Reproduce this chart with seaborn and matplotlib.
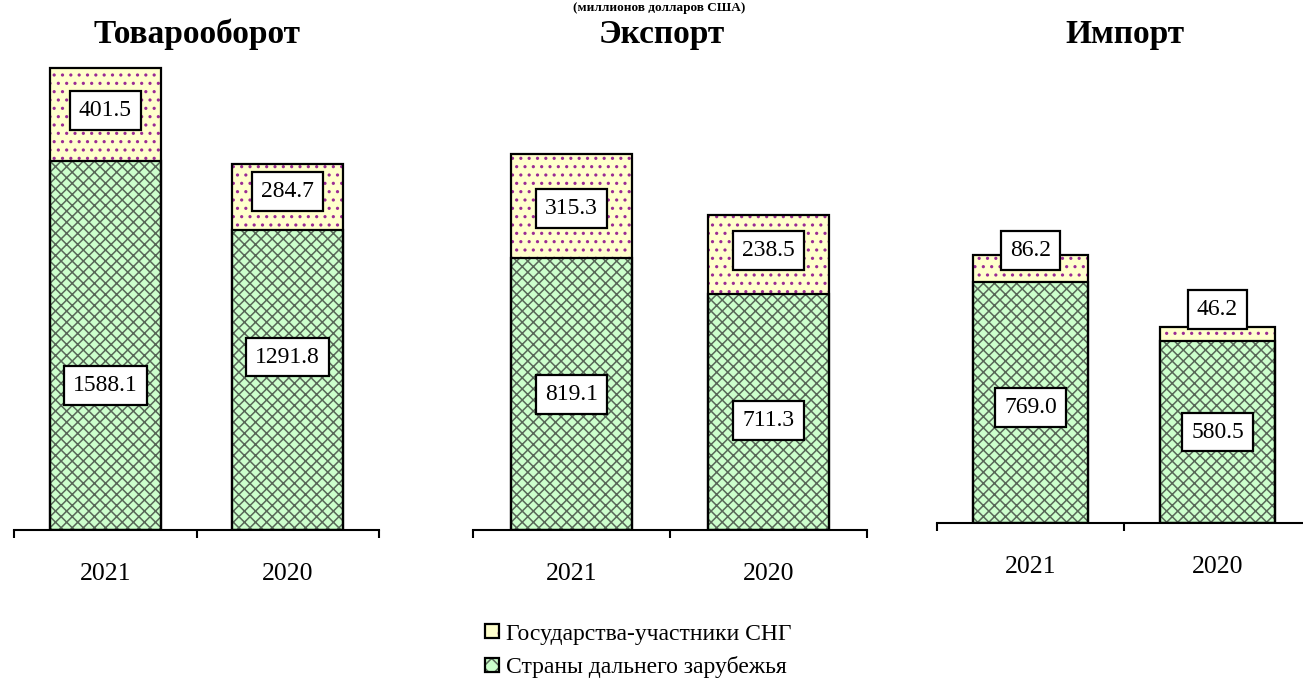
import numpy as np
import pandas as pd
import matplotlib
matplotlib.use("Agg")
import matplotlib.pyplot as plt
import seaborn as sns
from matplotlib.patches import Rectangle, Patch
from matplotlib.legend_handler import HandlerBase

# ---------------- data ----------------
years = ["2021", "2020"]
panel_titles = ["Товарооборот", "Экспорт", "Импорт"]
trade_far = [1588.1, 1291.8]
trade_cis = [401.5, 284.7]
export_far = [819.1, 711.3]
export_cis = [315.3, 238.5]
import_far = [769.0, 580.5]
import_cis = [86.2, 46.2]
series_labels = ["Государства-участники СНГ", "Страны дальнего зарубежья"]
subtitle = "(миллионов долларов США)"

far_values = [trade_far, export_far, import_far]
cis_values = [trade_cis, export_cis, import_cis]

# ---------------- style ----------------
sns.set_theme(style="white")
plt.rcParams["font.family"] = ["Liberation Serif", "DejaVu Serif"]
plt.rcParams["text.color"] = "black"
plt.rcParams["xtick.color"] = "black"
plt.rcParams["xtick.labelcolor"] = "black"
plt.rcParams["hatch.linewidth"] = 1.1

W, H = 1303, 693
DPI = 100
fig = plt.figure(figsize=(W / DPI, H / DPI), dpi=DPI)

GREEN = "#ccffcc"
GREEN_HATCH = "#586858"
GREEN_PAT = "xxx"
YELLOW = "#ffffcc"
YELLOW_HATCH = "#9a2a94"
YELLOW_PAT = ".."

# axes layout in pixels: left, right, bottom, top ; y-limit per panel
axes_px = [(14, 379, 530, 40), (473, 867, 530, 40), (937, 1311, 523, 40)]
ymax = [2110, 1478, 1541]
title_x = [197, 662, 1125]
# label nudges in pixels (positive = up)
far_nudge = [[-40, 23], [0, -8], [-5, 0]]
cis_nudge = [[4, 5], [-2, 4], [18, 24]]

for i in range(3):
    l, r, b, t = axes_px[i]
    ax = fig.add_axes([l / W, 1 - b / H, (r - l) / W, (b - t) / H])
    df = pd.DataFrame({
        "year": years,
        "far": far_values[i],
        "cis": cis_values[i],
    })
    df["total"] = df["far"] + df["cis"]

    sns.barplot(data=df, x="year", y="total", order=years, color=YELLOW,
                width=0.61, ax=ax, hatch=YELLOW_PAT, edgecolor=YELLOW_HATCH,
                linewidth=0, saturation=1)
    sns.barplot(data=df, x="year", y="far", order=years, color=GREEN,
                width=0.61, ax=ax, hatch=GREEN_PAT, edgecolor=GREEN_HATCH,
                linewidth=0, saturation=1)
    for p in list(ax.patches):
        ax.add_patch(Rectangle(p.get_xy(), p.get_width(), p.get_height(),
                               fill=False, edgecolor="black", linewidth=1.6,
                               zorder=3))

    ax.set_xlim(-0.5, 1.5)
    ax.set_ylim(0, ymax[i])
    ax.set_xlabel("")
    ax.set_ylabel("")
    ax.set_yticks([])
    for s in ["left", "right", "top"]:
        ax.spines[s].set_visible(False)
    ax.spines["bottom"].set_linewidth(1.5)
    ax.spines["bottom"].set_color("black")
    ax.set_xticks([-0.5, 0.5, 1.5])
    ax.set_xticklabels([])
    ax.set_xticks([0, 1], minor=True)
    ax.set_xticklabels(years, minor=True, fontsize=18.5, color="black")
    ax.tick_params(axis="x", which="major", direction="out", length=6,
                   width=1.5, color="black", bottom=True)
    ax.tick_params(axis="x", which="minor", length=0, pad=24, bottom=True)

    box = dict(boxstyle="square,pad=0.38", facecolor="white",
               edgecolor="black", linewidth=1.6)
    for j in range(2):
        far = df["far"].iloc[j]
        cis = df["cis"].iloc[j]
        ax.annotate(f"{far:.1f}", xy=(j, far / 2), xytext=(0, far_nudge[i][j]),
                    textcoords="offset pixels", ha="center", va="center",
                    fontsize=17, color="black", bbox=box, zorder=5)
        ax.annotate(f"{cis:.1f}", xy=(j, far + cis / 2),
                    xytext=(0, cis_nudge[i][j]), textcoords="offset pixels",
                    ha="center", va="center", fontsize=17, color="black",
                    bbox=box, zorder=5)

    fig.text(title_x[i] / W, 1 - 43 / H, panel_titles[i], ha="center",
             va="baseline", fontsize=24, fontweight="bold", color="black")

fig.text(659 / W, 1 - 2 / H, subtitle, ha="center", va="top",
         fontsize=9.5, fontweight="bold", color="black")


# legend with hatched squares framed in black
class FramedHatch(HandlerBase):
    def __init__(self, fc, hc, hatch):
        super().__init__()
        self.fc, self.hc, self.hatch = fc, hc, hatch

    def create_artists(self, legend, orig_handle, xdescent, ydescent, width,
                       height, fontsize, trans):
        side = min(width, height)
        x0 = -xdescent
        y0 = -ydescent + (height - side) / 2
        r1 = Rectangle((x0, y0), side, side, facecolor=self.fc,
                       edgecolor=self.hc, hatch=self.hatch, linewidth=0,
                       transform=trans)
        r2 = Rectangle((x0, y0), side, side, fill=False, edgecolor="black",
                       linewidth=1.6, transform=trans)
        return [r1, r2]


h_cis = Patch(facecolor=YELLOW)
h_far = Patch(facecolor=GREEN)
fig.legend([h_cis, h_far], series_labels, loc="center left",
           bbox_to_anchor=(485 / W, 1 - 651 / H), frameon=False,
           fontsize=17, handlelength=0.6, handleheight=0.6,
           handletextpad=0.3, labelspacing=0.5, borderpad=0,
           borderaxespad=0, labelcolor="black",
           handler_map={h_cis: FramedHatch(YELLOW, YELLOW_HATCH, "."),
                        h_far: FramedHatch(GREEN, GREEN_HATCH, "xx")})

fig.savefig("out.png", dpi=DPI)
